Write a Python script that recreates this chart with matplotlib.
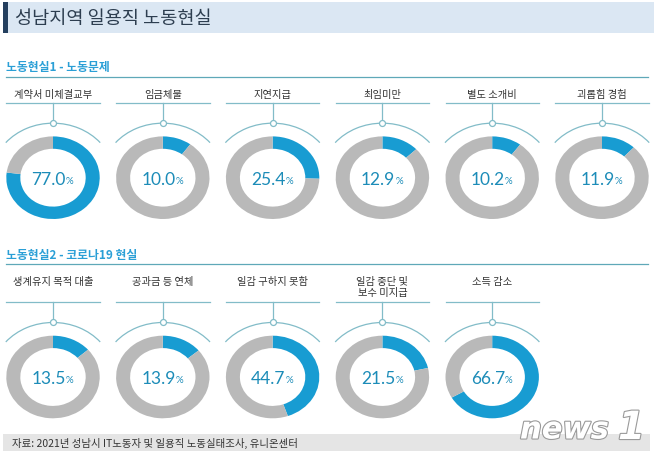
import matplotlib
matplotlib.use("Agg")
import matplotlib.pyplot as plt
import matplotlib.patheffects as pe
from matplotlib.patches import Arc, Rectangle

plt.rcParams["font.family"] = ["Noto Sans CJK KR", "DejaVu Sans"]

title = "성남지역 일용직 노동현실"
section1 = "노동현실1 - 노동문제"
labels1 = ["계약서 미체결교부", "임금체불", "지연지급", "최임미만", "별도 소개비", "괴롭힘 경험"]
values1 = [77.0, 10.0, 25.4, 12.9, 10.2, 11.9]
section2 = "노동현실2 - 코로나19 현실"
labels2 = ["생계유지 목적 대출", "공과금 등 연체", "일감 구하지 못함", "일감 중단 및\n보수 미지급", "소득 감소"]
values2 = [13.5, 13.9, 44.7, 21.5, 66.7]
source = "자료: 2021년 성남시 IT노동자 및 일용직 노동실태조사, 유니온센터"

BLUE, GRAY = "#189cd2", "#b9b9b9"
NUM, HEAD, LINE = "#1c8cb8", "#2a9fd6", "#82bcc8"
W, H = 658, 456
RX, RY, L = 46.7, 41.3, 1.45
X0, DX = 53, 109.8

fig = plt.figure(figsize=(W / 100, H / 100), dpi=100)
ax = fig.add_axes([0, 0, 1, 1])
ax.set_xlim(0, W); ax.set_ylim(H, 0); ax.axis("off")

# title bar
ax.add_patch(Rectangle((3, 3), 651, 31, color="#dbe7f3", lw=0))
ax.add_patch(Rectangle((3, 3), 4.5, 31, color="#243f5e", lw=0))
ax.text(15, 19, title, fontsize=13.4, color="#2d3e50", va="center", ha="left",
        fontweight="medium")

# footer
ax.add_patch(Rectangle((3, 435), 647, 17, color="#e5e5e5", lw=0))
ax.text(12, 443.5, source, fontsize=7.5, color="#333333", va="center", ha="left")
ax.text(520, 431, "news", fontsize=22, style="italic", fontweight="bold", color="white",
        family="DejaVu Sans", va="center", ha="left",
        path_effects=[pe.withStroke(linewidth=1.6, foreground="#9a9a9a")])
ax.text(618, 429, "1", fontsize=28, style="italic", fontweight="bold", color="white",
        family="DejaVu Sans", va="center", ha="left",
        path_effects=[pe.withStroke(linewidth=1.6, foreground="#9a9a9a")])


def donut_row(labels, values, head, head_y, label_top, line_y, cy):
    ax.text(6, head_y, head, fontsize=8.5, fontweight="bold", color=HEAD, va="center", ha="left")
    ax.plot([6, 648], [head_y + 9.5, head_y + 9.5], color="#5fa8b8", lw=0.9)
    for i, (lab, val) in enumerate(zip(labels, values)):
        cx = X0 + DX * i
        ax.text(cx, label_top, lab, fontsize=7.4, color="#333333", ha="center", va="top",
                linespacing=1.15)
        ax.plot([cx - RX, cx + RX], [line_y, line_y], color=LINE, lw=0.9)
        ax.plot([cx, cx], [line_y, cy - 1.32 * RY - 2.2], color=LINE, lw=0.9)
        sub = fig.add_axes([(cx - L * RX) / W, 1 - (cy + L * RY) / H, 2 * L * RX / W, 2 * L * RY / H])
        sub.pie([val, 100 - val], colors=[BLUE, GRAY], startangle=90, counterclock=False,
                wedgeprops=dict(width=0.3, linewidth=0))
        sub.set_aspect("auto"); sub.set_xlim(-L, L); sub.set_ylim(-L, L); sub.axis("off")
        sub.add_patch(Arc((0, 0), 2.64, 2.64, theta1=40, theta2=140, color=LINE, lw=0.9))
        sub.plot(0, 1.32, "o", ms=4.3, mfc="white", mec=LINE, mew=0.9, zorder=5)
        num = sub.text(-0.09, -0.02, f"{val:.1f}", fontsize=12.5, color=NUM, family="Lato",
                       fontweight="normal", ha="center", va="center", zorder=6)
        sub.annotate("%", xy=(1, 0.12), xycoords=num, fontsize=7, color=NUM, family="Lato",
                     ha="left", va="bottom", zorder=6)


donut_row(labels1, values1, section1, 68, 90, 104, 178.7)
donut_row(labels2, values2, section2, 255.5, 277, 302.7, 378)

fig.savefig("out.png", dpi=100)
